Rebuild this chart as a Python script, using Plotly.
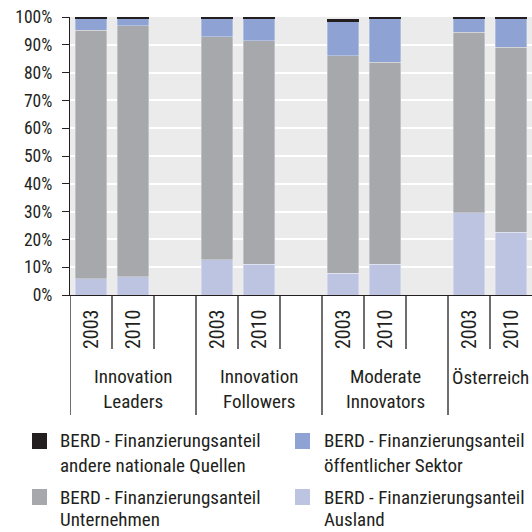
import plotly.graph_objects as go

# Daten (Anteile in %), eine leere Spalte zwischen den Gruppen
years = ["2003", "2010", "", "2003", "2010", "", "2003", "2010", "", "2003", "2010"]
groups = ["Innovation<br>Leaders", "Innovation<br>Followers", "Moderate<br>Innovators", "Österreich"]
group_slots = [[0, 1, 2], [3, 4, 5], [6, 7, 8], [9, 10]]

ausland = [5.8, 6.5, None, 12.6, 11.0, None, 7.9, 11.0, None, 29.5, 22.6]
unternehmen = [89.4, 90.3, None, 80.3, 80.5, None, 78.2, 72.8, None, 65.1, 66.6]
oeffentlich = [4.1, 2.5, None, 6.4, 7.8, None, 12.4, 15.5, None, 4.7, 10.1]
andere = [0.7, 0.7, None, 0.7, 0.7, None, 0.7, 0.7, None, 0.7, 0.7]

series_names = ["Ausland", "Unternehmen", "öffentlicher Sektor", "andere nationale Quellen"]
series_colors = ["#bcc4e2", "#a7a8ab", "#8ea3d3", "#231f20"]
PREFIX = "BERD - Finanzierungsanteil"

FONT = "Roboto Condensed, DejaVu Sans Condensed, sans-serif"
FS = 19
TXT = "#231f20"
x = list(range(len(years)))

# Plotbereich in Pixeln (fuer Umrechnung der Legende)
L, T, W, H = 70, 17, 462, 278


def px_to_paper(px, py):
    return (px - L) / W, (T + H - py) / H


fig = go.Figure()
for name, vals, col in zip(series_names, [ausland, unternehmen, oeffentlich, andere], series_colors):
    lw = 0 if col == "#231f20" else 0.6
    fig.add_trace(go.Bar(x=x, y=vals, name=PREFIX + " " + name, showlegend=False,
                         marker=dict(color=col, line=dict(color="rgba(255,255,255,0.5)", width=lw))))

ann = []
shapes = []
# Jahre (gedreht) und Gruppen
for i, yr in enumerate(years):
    if yr:
        ann.append(dict(x=i, y=0, xref="x", yref="paper", text=yr, showarrow=False,
                        textangle=-90, yanchor="middle", yshift=-34,
                        font=dict(size=20, color=TXT, family=FONT)))
for g, slots in zip(groups, group_slots):
    xc = (slots[0] + slots[-1]) / 2
    ann.append(dict(x=xc, y=0, xref="x", yref="paper", text=g, showarrow=False,
                    yanchor="middle", yshift=-94 if "<br>" in g else -82, align="center",
                    font=dict(size=FS, color=TXT, family=FONT)))
    shapes.append(dict(type="line", xref="x", yref="paper", x0=slots[0] - 0.5, x1=slots[0] - 0.5,
                       y0=0, y1=-120 / H, line=dict(color=TXT, width=1.3)))
    for s in slots[1:]:
        shapes.append(dict(type="line", xref="x", yref="paper", x0=s - 0.5, x1=s - 0.5,
                           y0=0, y1=-54 / H, line=dict(color=TXT, width=1.3)))

# Legende von Hand: 2 Spalten, Reihenfolge wie im Original
legend_order = [3, 2, 1, 0]
for k, idx in enumerate(legend_order):
    col, row = k % 2, k // 2
    sx = [32, 295][col]
    tx = [58, 322][col]
    ly = [441, 497][row]
    x0, y0 = px_to_paper(sx, ly - 8)
    x1, y1 = px_to_paper(sx + 15, ly + 8)
    shapes.append(dict(type="rect", xref="paper", yref="paper", x0=x0, x1=x1, y0=y0, y1=y1,
                       fillcolor=series_colors[idx], line=dict(width=0)))
    for j, line in enumerate([PREFIX, series_names[idx]]):
        ax, ay = px_to_paper(tx, ly + j * (24 if row == 0 else 22))
        ann.append(dict(x=ax, y=ay, xref="paper", yref="paper", text=line, showarrow=False,
                        xanchor="left", yanchor="middle", align="left",
                        font=dict(size=FS, color=TXT, family=FONT)))

fig.update_layout(
    barmode="stack",
    bargap=0.26,
    width=532, height=532,
    margin=dict(l=L, r=532 - L - W, t=T, b=532 - T - H),
    paper_bgcolor="white",
    plot_bgcolor="#ebebec",
    font=dict(family=FONT, size=FS, color=TXT),
    annotations=ann,
    shapes=shapes,
    showlegend=False,
)
fig.update_xaxes(range=[-0.5, 10.5], showticklabels=False, showgrid=False, zeroline=False,
                 showline=True, linecolor=TXT, linewidth=1.3, ticks="")
fig.update_yaxes(range=[0, 100], tickvals=list(range(0, 101, 10)),
                 ticktext=[f"{v}%" for v in range(0, 101, 10)],
                 showgrid=True, gridcolor="white", gridwidth=2, zeroline=False,
                 showline=True, linecolor=TXT, linewidth=1.3,
                 ticks="outside", ticklen=7, tickcolor=TXT, ticklabelstandoff=6,
                 tickfont=dict(size=17.5, family=FONT, color=TXT))

fig.write_html("out.html", config={"displayModeBar": False},
               post_script="document.body.style.margin='0';document.body.style.overflow='hidden';")
